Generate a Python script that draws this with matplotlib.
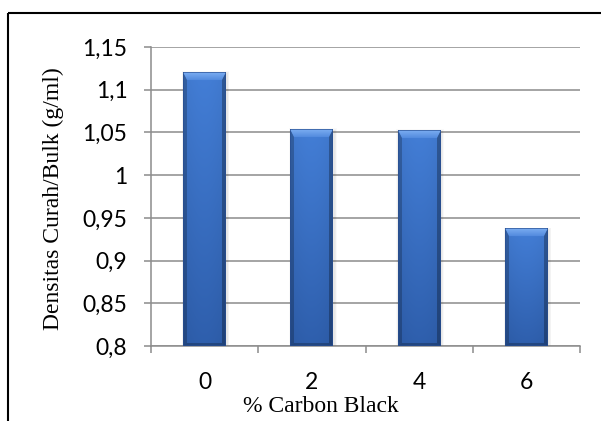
import numpy as np
import matplotlib
matplotlib.use("Agg")
import matplotlib.pyplot as plt
from matplotlib.lines import Line2D
from matplotlib.patches import Rectangle

# ---- data ----
categories = ["0", "2", "4", "6"]
x_pos = [0, 2, 4, 6]
density = [1.120, 1.053, 1.052, 0.937]
y_ticks = [0.8, 0.85, 0.9, 0.95, 1.0, 1.05, 1.1, 1.15]
y_tick_labels = ["0,8", "0,85", "0,9", "0,95", "1", "1,05", "1,1", "1,15"]
x_label = "% Carbon Black"
y_label = "Densitas Curah/Bulk (g/ml)"

W, H = 601, 421
fig = plt.figure(figsize=(W / 100, H / 100), dpi=100)
fig.patch.set_facecolor("white")
ax = fig.add_axes([151 / W, 75 / H, 429 / W, 299 / H])
ax.set_xlim(-1, 7)
ax.set_ylim(0.8, 1.15)

grid_c = "#8c8c8c"
tick_font = dict(family="Lato", size=16.5)
lab_font = dict(family="Liberation Serif", size=17)

ax.set_yticks(y_ticks)
ax.set_yticklabels(y_tick_labels, fontdict=tick_font)
ax.set_xticks([-1, 1, 3, 5, 7])
ax.set_xticklabels([])
ax.set_xticks(x_pos, minor=True)
ax.set_xticklabels(categories, minor=True, fontdict=tick_font)
ax.tick_params(axis="x", which="minor", length=0, pad=19)
ax.tick_params(axis="x", which="major", length=5, width=1.1, color=grid_c, direction="out")
ax.tick_params(axis="y", length=5, width=1.1, color=grid_c, direction="out", pad=12)

ax.yaxis.grid(True, color=grid_c, lw=1.1)
ax.set_axisbelow(True)
for s in ["top", "right"]:
    ax.spines[s].set_visible(False)
for s in ["left", "bottom"]:
    ax.spines[s].set_color(grid_c)
    ax.spines[s].set_linewidth(1.1)

bars = ax.bar(x_pos, density, width=0.8, bottom=0, color="#3a6fc0", edgecolor="none", zorder=2)


def bar_image(w, h, ss=3):
    wp, hp = w * ss, h * ss
    yy, xx = np.mgrid[0:hp, 0:wp] + 0.5
    yy = yy / ss
    xx = xx / ss
    dl, dr, dt, db = xx, w - xx, yy, h - yy
    bt, bs, bb = 8.0, 4.0, 3.0
    t = (yy / h)[..., None]
    s = (xx / w)[..., None]
    top_c = np.array([64, 120, 204.0])
    bot_c = np.array([44, 90, 164.0])
    img = top_c * (1 - t) + bot_c * t
    img = img * (1 + 0.05 * np.sin(np.pi * s))
    # side bevels
    side_l = (dl < bs) & (dl / bs <= dt / bt) & (dl / bs <= db / bb)
    side_r = (dr < bs) & (dr / bs <= dt / bt) & (dr / bs <= db / bb)
    img[side_l] = img[side_l] * 0.78
    img[side_r] = img[side_r] * 0.72
    # bottom bevel
    botb = (db < bb) & (db / bb < dl / bs) & (db / bb < dr / bs)
    img[botb] = img[botb] * 0.75
    # top bevel
    topb = (dt < bt) & (dt / bt < dl / bs) & (dt / bt < dr / bs)
    u = (dt / bt)[..., None]
    c1 = np.array([125, 175, 242.0])
    c2 = np.array([82, 138, 222.0])
    tb = c1 * (1 - u) + c2 * u
    img = np.where(topb[..., None], tb, img)
    # thin dark outline
    edge = (dl < 0.8) | (dr < 0.8) | (dt < 0.8) | (db < 0.8)
    img[edge] = np.array([40, 78, 145.0])
    img = img.reshape(h, ss, w, ss, 3).mean(axis=(1, 3))
    return np.clip(img / 255.0, 0, 1)


for b in bars:
    x0, y0 = b.get_x(), 0.8
    x1, y1 = b.get_x() + b.get_width(), b.get_height()
    p0 = ax.transData.transform((x0, y0))
    p1 = ax.transData.transform((x1, y1))
    wpx = max(int(round(p1[0] - p0[0])), 2)
    hpx = max(int(round(p1[1] - p0[1])), 2)
    # soft shadow
    sx = (x1 - x0) / wpx
    sy = (y1 - y0) / hpx
    for k in range(1, 5):
        ax.add_patch(Rectangle((x0 - k * sx * 0.6 + sx, y0), (x1 - x0) + k * sx * 1.2,
                               (y1 - y0) + k * sy * 0.6 - sy, facecolor="black",
                               alpha=0.025, edgecolor="none", zorder=1.9))
    img = bar_image(wpx, hpx)
    ax.imshow(img, extent=(x0, x1, y0, y1), aspect="auto", interpolation="bilinear", zorder=3)

ax.set_xlim(-1, 7)
ax.set_ylim(0.8, 1.15)

fig.text(321 / W, 1 - 406 / H, x_label, ha="center", va="center", fontdict=lab_font)
fig.text(53 / W, 1 - 198.5 / H, y_label, ha="center", va="center", rotation=90, fontdict=lab_font)

fig.add_artist(Line2D([8.3 / W, 1.0], [1 - 12.7 / H] * 2, transform=fig.transFigure,
                      color="black", lw=1.5, solid_capstyle="butt"))
fig.add_artist(Line2D([8.3 / W] * 2, [0.0, 1 - 12.7 / H], transform=fig.transFigure,
                      color="black", lw=1.5, solid_capstyle="butt"))

fig.savefig("out.png", dpi=100, facecolor="white")
